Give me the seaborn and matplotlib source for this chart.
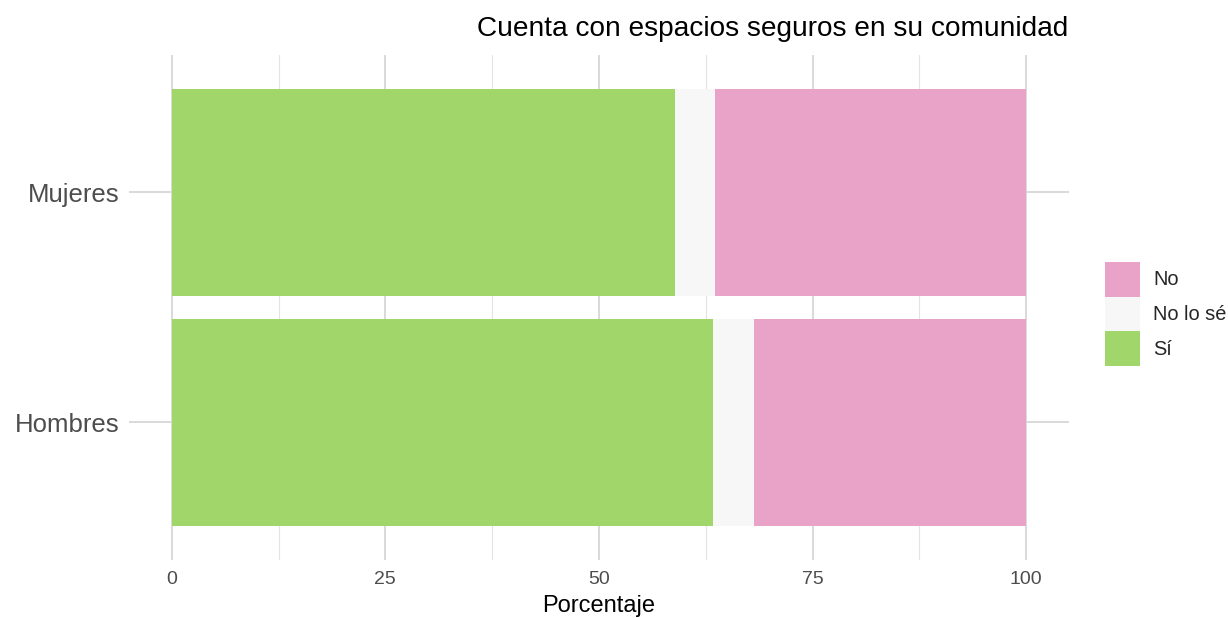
import matplotlib
matplotlib.use("Agg")
import matplotlib.pyplot as plt
from matplotlib.patches import Patch
from matplotlib.ticker import MultipleLocator
import seaborn as sns
import pandas as pd

# data (percentages)
groups = ["Mujeres", "Hombres"]
si = [58.9, 63.3]
no_lo_se = [4.7, 4.8]
no = [36.4, 31.9]

answers = ["No", "No lo sé", "Sí"]
colors = {"No": "#E9A3C9", "No lo sé": "#F7F7F7", "Sí": "#A1D76A"}

df = pd.DataFrame({"grupo": groups, "Sí": si, "No lo sé": no_lo_se, "No": no})
# cumulative ends for the stacked look
df["end_si"] = df["Sí"]
df["end_nls"] = df["Sí"] + df["No lo sé"]
df["end_no"] = df["end_nls"] + df["No"]

sns.set_theme(style="white")
plt.rcParams["font.family"] = ["Liberation Sans", "DejaVu Sans"]

fig = plt.figure(figsize=(12.28, 6.18), dpi=100)
ax = fig.add_axes([129 / 1228, 1 - 560 / 618, (1069 - 129) / 1228, (560 - 54.5) / 618])

# draw longest first, shorter layers on top
for col, name in [("end_no", "No"), ("end_nls", "No lo sé"), ("end_si", "Sí")]:
    sns.barplot(data=df, y="grupo", x=col, order=groups, color=colors[name],
                orient="h", width=0.9, saturation=1, linewidth=0, edgecolor="none",
                ax=ax, zorder=2)

ax.set_xlim(-5, 105)
ax.set_ylim(1.6, -0.6)
ax.xaxis.set_major_locator(MultipleLocator(25))
ax.xaxis.set_minor_locator(MultipleLocator(12.5))
ax.grid(which="major", color="#D9D9D9", lw=1.4, zorder=0)
ax.grid(which="minor", axis="x", color="#E3E3E3", lw=0.8, zorder=0)
ax.set_axisbelow(True)
for s in ax.spines.values():
    s.set_visible(False)
ax.tick_params(axis="both", length=0)
ax.tick_params(axis="x", labelsize=14, labelcolor="#4D4D4D", pad=8)
ax.tick_params(axis="y", labelsize=18.5, labelcolor="#4D4D4D", pad=7)
ax.set_ylabel("")
ax.set_xlabel("Porcentaje", fontsize=17, color="black", labelpad=5)

fig.text(1068 / 1228, 1 - 29 / 618, "Cuenta con espacios seguros en su comunidad",
         ha="right", va="center", fontsize=20.2, color="black")

handles = [Patch(facecolor=colors[a], edgecolor="none") for a in answers]
fig.legend(handles, answers, loc="center left", bbox_to_anchor=(1105 / 1228, 1 - 314 / 618),
           frameon=False, fontsize=14.4, handlelength=1.75, handleheight=2.3,
           labelspacing=0.0, handletextpad=0.65, borderpad=0, borderaxespad=0)

fig.savefig("out.png", dpi=100, facecolor="white")
